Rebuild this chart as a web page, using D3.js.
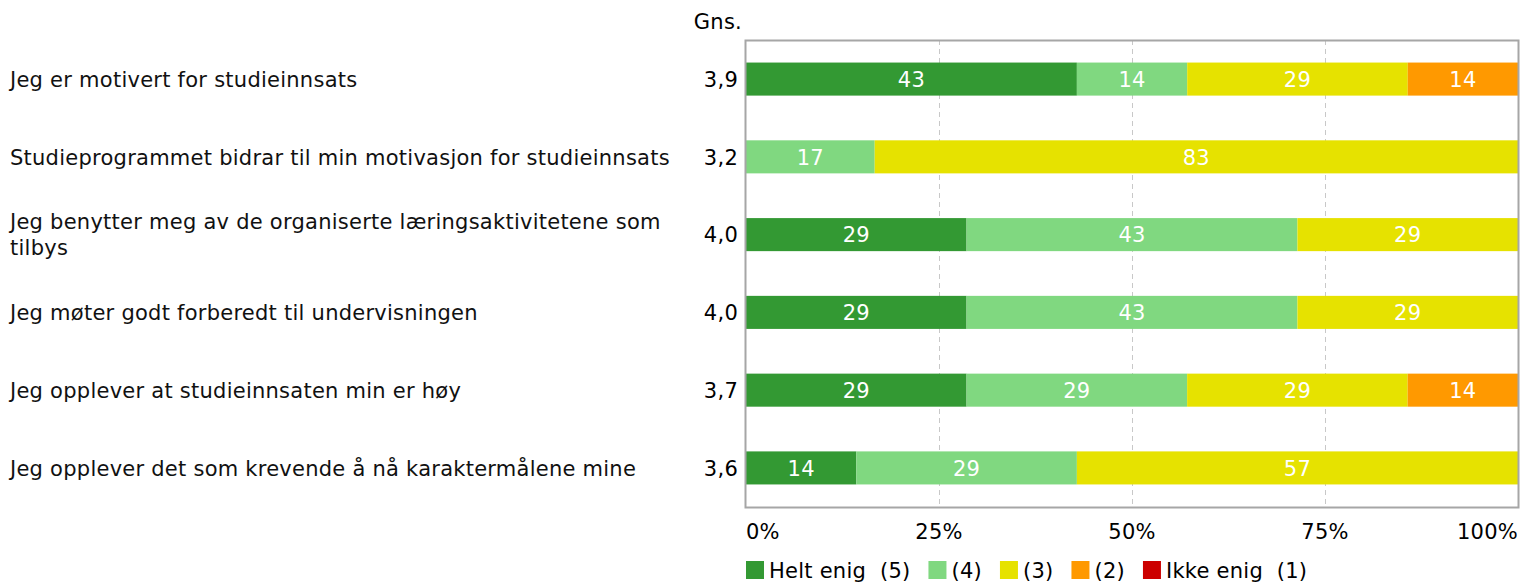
<!DOCTYPE html>
<html>
<head>
<meta charset="utf-8">
<script src="https://cdn.jsdelivr.net/npm/d3@7"></script>
<style>
  body { margin: 0; background: #fff; }
  svg { font-family: Verdana, "DejaVu Sans", sans-serif; }
  text { font-size: 21px; letter-spacing: 0.25px; }
</style>
</head>
<body>
<div id="chart"></div>
<script>
// questions, top to bottom
var questions = [
  'Jeg er motivert for studieinnsats',
  'Studieprogrammet bidrar til min motivasjon for studieinnsats',
  'Jeg benytter meg av de organiserte læringsaktivitetene som tilbys',
  'Jeg møter godt forberedt til undervisningen',
  'Jeg opplever at studieinnsaten min er høy',
  'Jeg opplever det som krevende å nå karaktermålene mine'
];
var averages = ['3,9', '3,2', '4,0', '4,0', '3,7', '3,6'];

// percent per answer, one array per answer category
var helt5 = [42.86, 0, 28.57, 28.57, 28.57, 14.29];
var svar4 = [14.29, 16.67, 42.86, 42.86, 28.57, 28.57];
var svar3 = [28.57, 83.33, 28.57, 28.57, 28.57, 57.14];
var svar2 = [14.29, 0, 0, 0, 14.29, 0];
var ikke1 = [0, 0, 0, 0, 0, 0];

var legendNames = ['Helt enig  (5)', '(4)', '(3)', '(2)', 'Ikke enig  (1)'];
var colors = ['#339933', '#80d880', '#e6e200', '#ff9900', '#cc0000'];
var ticks = [0, 25, 50, 75, 100];

var width = 1521, height = 586;
var pLeft = 746, pRight = 1518, pTop = 40, pBottom = 507;

var svg = d3.select('#chart').append('svg')
  .attr('width', width)
  .attr('height', height);

var series = [helt5, svar4, svar3, svar2, ikke1];
var rows = questions.map(function(q, i) {
  var r = { q: q, avg: averages[i] };
  series.forEach(function(s, k) { r['k' + k] = s[i]; });
  return r;
});
var keys = ['k0', 'k1', 'k2', 'k3', 'k4'];
var stacked = d3.stack().keys(keys)(rows);

var x = d3.scaleLinear().domain([0, 100]).range([pLeft, pRight]);
var y = d3.scaleBand().domain(d3.range(questions.length))
  .range([pTop, pBottom]).paddingInner(0.575).paddingOuter(0.29);

// grid
svg.append('g').selectAll('line')
  .data([25, 50, 75])
  .enter().append('line')
  .attr('x1', function(d) { return Math.round(x(d)) + 0.5; })
  .attr('x2', function(d) { return Math.round(x(d)) + 0.5; })
  .attr('y1', pTop).attr('y2', pBottom)
  .style('stroke', '#c8c8c8')
  .style('stroke-dasharray', '5,4');

// bars
var layer = svg.append('g').selectAll('g')
  .data(stacked)
  .enter().append('g')
  .style('fill', function(d, i) { return colors[i]; });

layer.selectAll('rect')
  .data(function(d) { return d; })
  .enter().append('rect')
  .attr('x', function(d) { return x(d[0]); })
  .attr('y', function(d, i) { return y(i); })
  .attr('width', function(d) { return x(d[1]) - x(d[0]); })
  .attr('height', y.bandwidth());

layer.selectAll('text')
  .data(function(d) { return d.filter(function(s) { return s[1] - s[0] > 0; }); })
  .enter().append('text')
  .attr('x', function(d) { return (x(d[0]) + x(d[1])) / 2; })
  .attr('y', function(d) { return y(rows.indexOf(d.data)) + y.bandwidth() / 2; })
  .attr('dy', '0.37em')
  .attr('text-anchor', 'middle')
  .style('fill', '#fff')
  .text(function(d) { return Math.round(d[1] - d[0]); });

// frame
svg.append('rect')
  .attr('x', pLeft - 0.5).attr('y', pTop + 0.5)
  .attr('width', pRight - pLeft + 1).attr('height', pBottom - pTop)
  .style('fill', 'none')
  .style('stroke', '#a6a6a6')
  .style('stroke-width', 2);

// averages
svg.append('text')
  .attr('x', 742).attr('y', 29)
  .attr('text-anchor', 'end')
  .text('Gns.');

svg.append('g').selectAll('text')
  .data(averages)
  .enter().append('text')
  .attr('x', 738)
  .attr('y', function(d, i) { return y(i) + y.bandwidth() / 2; })
  .attr('dy', '0.37em')
  .attr('text-anchor', 'end')
  .text(function(d) { return d; });

// question labels, wrapped
var qText = svg.append('g').selectAll('text')
  .data(questions)
  .enter().append('text')
  .attr('x', 10)
  .attr('y', function(d, i) { return y(i) + y.bandwidth() / 2; })
  .style('fill', '#111');

qText.each(function(d) {
  var t = d3.select(this);
  var words = d.split(' ');
  var lines = [], line = [];
  var probe = t.append('tspan');
  words.forEach(function(w) {
    line.push(w);
    probe.text(line.join(' '));
    if (probe.node().getComputedTextLength() > 668 && line.length > 1) {
      line.pop();
      lines.push(line.join(' '));
      line = [w];
    }
  });
  lines.push(line.join(' '));
  probe.remove();
  var lh = 26;
  var off = -(lines.length - 1) * lh / 2 + 7.8;
  lines.forEach(function(l, j) {
    t.append('tspan')
      .attr('x', 10)
      .attr('dy', j === 0 ? off : lh)
      .text(l);
  });
});

// x axis labels
svg.append('g').selectAll('text')
  .data(ticks)
  .enter().append('text')
  .attr('x', function(d) { return x(d); })
  .attr('y', 539)
  .attr('text-anchor', function(d, i) { return i === 0 ? 'start' : (i === ticks.length - 1 ? 'end' : 'middle'); })
  .text(function(d) { return d + '%'; });

// legend
var lg = svg.append('g').attr('transform', 'translate(746,561)');
var lx = 0;
legendNames.forEach(function(n, i) {
  var g = lg.append('g').attr('transform', 'translate(' + lx + ',0)');
  g.append('rect').attr('width', 18).attr('height', 18).style('fill', colors[i]);
  var t = g.append('text').attr('x', 23).attr('y', 17)
    .style('white-space', 'pre')
    .attr('xml:space', 'preserve')
    .text(n);
  lx += 23 + t.node().getComputedTextLength() + 18;
});
</script>
</body>
</html>
